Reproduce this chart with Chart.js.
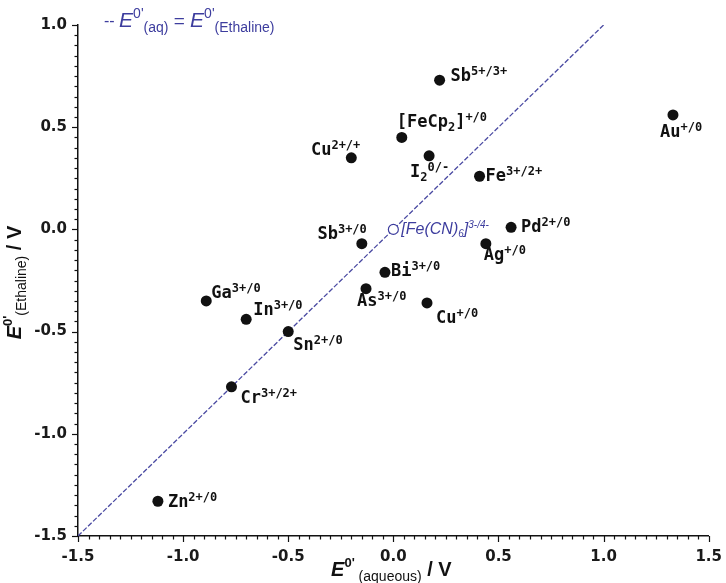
<!DOCTYPE html>
<html>
<head>
<meta charset="utf-8">
<script src="https://cdn.jsdelivr.net/npm/chart.js@4.4.1/dist/chart.umd.min.js"></script>
<style>
  html, body { margin: 0; padding: 0; background: #fff; }
  #wrap { width: 726px; height: 583px; }
</style>
</head>
<body>
<div id="wrap"><canvas id="c" width="726" height="583"></canvas></div>
<script>
// ---- data ----
const speciesLabels = [
  'Sb^{5+/3+}', '[FeCp_{2}]^{+/0}', 'Cu^{2+/+}', 'I_{2}^{0/-}', 'Fe^{3+/2+}', 'Au^{+/0}',
  'Sb^{3+/0}', 'Pd^{2+/0}', 'Ag^{+/0}', 'Bi^{3+/0}', 'As^{3+/0}', 'Cu^{+/0}',
  'Ga^{3+/0}', 'In^{3+/0}', 'Sn^{2+/0}', 'Cr^{3+/2+}', 'Zn^{2+/0}'
];
const eAqueous = [0.22, 0.04, -0.20, 0.17, 0.41, 1.33, -0.15, 0.56, 0.44, -0.04, -0.13, 0.16, -0.89, -0.70, -0.50, -0.77, -1.12];
const eEthaline = [0.73, 0.45, 0.35, 0.36, 0.26, 0.56, -0.07, 0.01, -0.07, -0.21, -0.29, -0.36, -0.35, -0.44, -0.50, -0.77, -1.33];
const referenceLabel = '[Fe(CN)_{6}]^{3-/4-}';
const referenceX = [0.0];
const referenceY = [0.0];
const identityX = [-1.5, 1.0];
const identityY = [-1.5, 1.0];
const tickStep = 0.5;
const minorStep = 0.05;

// ---- label placement (style): [align, dx, dy] relative to the point ----
const labelPlacement = [
  ['left', 11, 1], ['left', -5, -10], ['right', 9, -3], ['left', -19, 21], ['left', 6, 5], ['left', -13, 22],
  ['right', 5, -5], ['left', 10, 5], ['left', -2, 16], ['left', 6, 4], ['left', -9, 17], ['left', 9, 20],
  ['left', 5, -3], ['left', 7, -4], ['left', 5, 18], ['left', 9, 16], ['left', 10, 6]
];

const BLUE = '#3d3d9e';
const LINEBLUE = '#4a4aa2';

function parseRich(str, baseFont, supFont, subFont, supRise, subDrop) {
  const parts = str.split(/(\^\{[^}]*\}|_\{[^}]*\})/).filter(s => s.length);
  return parts.map(p => {
    if (p.startsWith('^{')) return { t: p.slice(2, -1), font: supFont, dy: -supRise };
    if (p.startsWith('_{')) return { t: p.slice(2, -1), font: subFont, dy: subDrop };
    return { t: p, font: baseFont, dy: 0 };
  });
}
function richWidth(ctx, segs) {
  let w = 0;
  segs.forEach(s => { ctx.font = s.font; w += ctx.measureText(s.t).width; });
  return w;
}
function drawRich(ctx, segs, x, y, align) {
  const w = richWidth(ctx, segs);
  if (align === 'right') x -= w;
  else if (align === 'center') x -= w / 2;
  ctx.textAlign = 'left';
  ctx.textBaseline = 'alphabetic';
  segs.forEach(s => {
    ctx.font = s.font;
    ctx.fillText(s.t, x, y + s.dy);
    x += ctx.measureText(s.t).width;
  });
}

const annotationPlugin = {
  id: 'annot',
  afterDraw(chart) {
    const ctx = chart.ctx;
    const xs = chart.scales.x, ys = chart.scales.y;
    const ca = chart.chartArea;
    ctx.save();
    // axis tick marks (major + minor)
    ctx.strokeStyle = '#111';
    ctx.lineWidth = 1.2;
    const nx = Math.round((xs.max - xs.min) / minorStep);
    for (let i = 0; i <= nx; i++) {
      const px = Math.round(xs.getPixelForValue(xs.min + i * minorStep)) + 0.5;
      const len = (i % Math.round(tickStep / minorStep) === 0) ? 6 : 3.5;
      ctx.beginPath(); ctx.moveTo(px, ca.bottom); ctx.lineTo(px, ca.bottom + len); ctx.stroke();
    }
    const ny = Math.round((ys.max - ys.min) / minorStep);
    for (let i = 0; i <= ny; i++) {
      const py = Math.round(ys.getPixelForValue(ys.min + i * minorStep)) + 0.5;
      const len = (i % Math.round(tickStep / minorStep) === 0) ? 6 : 3.5;
      ctx.beginPath(); ctx.moveTo(ca.left, py); ctx.lineTo(ca.left - len, py); ctx.stroke();
    }

    // point labels
    ctx.fillStyle = '#111';
    speciesLabels.forEach((lab, i) => {
      const px = xs.getPixelForValue(eAqueous[i]);
      const py = ys.getPixelForValue(eEthaline[i]);
      const [align, dx, dy] = labelPlacement[i];
      const segs = parseRich(lab, 'bold 17px "DejaVu Sans Mono"', 'bold 12px "DejaVu Sans Mono"', 'bold 12px "DejaVu Sans Mono"', 6, 4);
      drawRich(ctx, segs, px + dx, py + dy, align);
    });
    // reference label
    ctx.fillStyle = BLUE;
    {
      const px = xs.getPixelForValue(referenceX[0]);
      const py = ys.getPixelForValue(referenceY[0]);
      const segs = parseRich(referenceLabel, 'italic 16px "Liberation Sans"', 'italic 10px "Liberation Sans"', 'italic 10px "Liberation Sans"', 6, 3);
      drawRich(ctx, segs, px + 8, py + 5, 'left');
    }

    // legend
    ctx.fillStyle = BLUE;
    const legSegs = [
      { t: '-- ', font: '16px "Liberation Sans"', dy: -1 },
      { t: 'E', font: 'italic 21px "Liberation Sans"', dy: 0 },
      { t: "0'", font: '14px "Liberation Sans"', dy: -9 },
      { t: '(aq)', font: '14px "Liberation Sans"', dy: 5 },
      { t: ' = ', font: '19px "Liberation Sans"', dy: 0 },
      { t: 'E', font: 'italic 21px "Liberation Sans"', dy: 0 },
      { t: "0'", font: '14px "Liberation Sans"', dy: -9 },
      { t: '(Ethaline)', font: '14px "Liberation Sans"', dy: 5 }
    ];
    drawRich(ctx, legSegs, ca.left + 26, ca.top + 2, 'left');

    // axis titles
    ctx.fillStyle = '#111';
    const xt = [
      { t: 'E', font: 'bold italic 20px "Liberation Sans"', dy: 0 },
      { t: "0'", font: 'bold 13px "Liberation Sans"', dy: -9 },
      { t: ' (aqueous)', font: '14px "Liberation Sans"', dy: 5 },
      { t: ' / V', font: 'bold 20px "Liberation Sans"', dy: 0 }
    ];
    drawRich(ctx, xt, (ca.left + ca.right) / 2 - 2, chart.height - 7, 'center');
    ctx.save();
    ctx.translate(21, (ca.top + ca.bottom) / 2 + 2);
    ctx.rotate(-Math.PI / 2);
    const yt = [
      { t: 'E', font: 'bold italic 20px "Liberation Sans"', dy: 0 },
      { t: "0'", font: 'bold 13px "Liberation Sans"', dy: -9 },
      { t: '(Ethaline)', font: '14px "Liberation Sans"', dy: 5 },
      { t: ' / V', font: 'bold 20px "Liberation Sans"', dy: 0 }
    ];
    drawRich(ctx, yt, 0, 0, 'center');
    ctx.restore();
    ctx.restore();
  }
};

const ctx = document.getElementById('c').getContext('2d');
new Chart(ctx, {
  type: 'scatter',
  data: {
    datasets: [
      {
        type: 'line',
        data: identityX.map((x, i) => ({ x, y: identityY[i] })),
        borderColor: LINEBLUE,
        borderWidth: 1.3,
        borderDash: [5, 2],
        pointRadius: 0,
        fill: false,
        order: 3
      },
      {
        data: eAqueous.map((x, i) => ({ x, y: eEthaline[i] })),
        backgroundColor: '#111',
        borderColor: '#111',
        pointRadius: 5.5,
        borderWidth: 0,
        order: 1
      },
      {
        data: referenceX.map((x, i) => ({ x, y: referenceY[i] })),
        backgroundColor: '#fff',
        borderColor: BLUE,
        borderWidth: 1.2,
        pointRadius: 5,
        order: 2
      }
    ]
  },
  options: {
    responsive: false,
    animation: false,
    devicePixelRatio: 1,
    layout: { padding: { top: 25, right: 8, left: 0, bottom: 0 } },
    plugins: { legend: { display: false }, tooltip: { enabled: false } },
    scales: {
      x: {
        type: 'linear', min: -1.5, max: 1.5,
        grid: { display: false },
        border: { display: true, color: '#111', width: 1.5 },
        ticks: {
          stepSize: tickStep, padding: 4, color: '#1a1a1a',
          font: { family: '"DejaVu Sans"', size: 15, weight: 'bold' },
          callback: v => v.toFixed(1), autoSkip: false, maxRotation: 0
        },
        afterFit: s => { s.height = 47; }
      },
      y: {
        type: 'linear', min: -1.5, max: 1.0,
        grid: { display: false },
        border: { display: true, color: '#111', width: 1.5 },
        ticks: {
          stepSize: tickStep, padding: 3, color: '#1a1a1a',
          font: { family: '"DejaVu Sans"', size: 15, weight: 'bold' },
          callback: v => v.toFixed(1), autoSkip: false
        },
        afterFit: s => { s.width = 78; }
      }
    }
  },
  plugins: [annotationPlugin]
});
</script>
</body>
</html>
